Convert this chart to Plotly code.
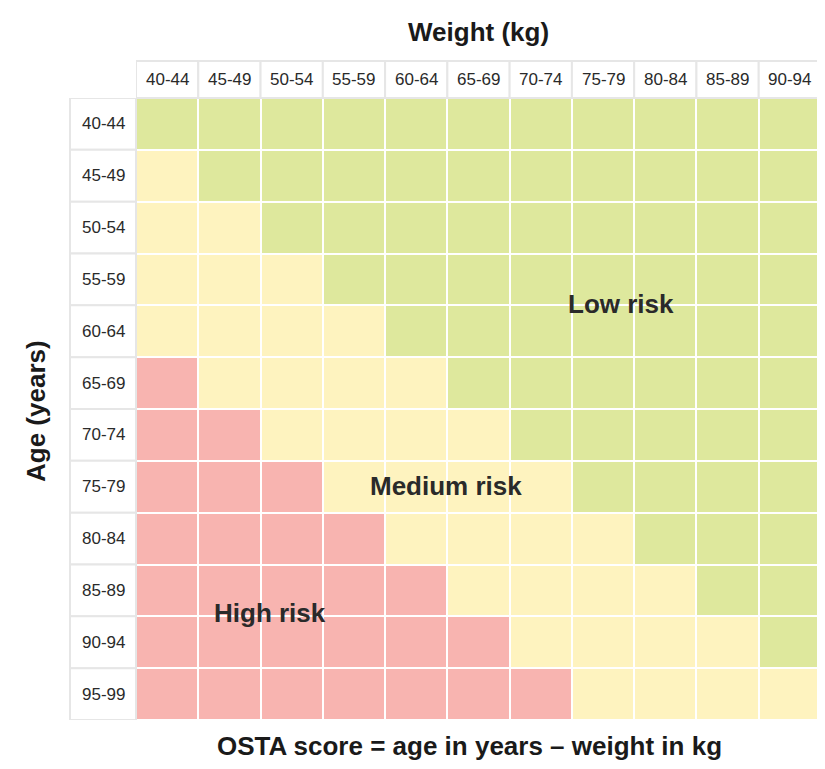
import plotly.graph_objects as go

weight_labels = ["40-44", "45-49", "50-54", "55-59", "60-64", "65-69",
                 "70-74", "75-79", "80-84", "85-89", "90-94"]
age_labels = ["40-44", "45-49", "50-54", "55-59", "60-64", "65-69",
              "70-74", "75-79", "80-84", "85-89", "90-94", "95-99"]

# Risk category per cell: 0 = low, 1 = medium, 2 = high (rows = age, cols = weight)
risk = [
    [0, 0, 0, 0, 0, 0, 0, 0, 0, 0, 0],
    [1, 0, 0, 0, 0, 0, 0, 0, 0, 0, 0],
    [1, 1, 0, 0, 0, 0, 0, 0, 0, 0, 0],
    [1, 1, 1, 0, 0, 0, 0, 0, 0, 0, 0],
    [1, 1, 1, 1, 0, 0, 0, 0, 0, 0, 0],
    [2, 1, 1, 1, 1, 0, 0, 0, 0, 0, 0],
    [2, 2, 1, 1, 1, 1, 0, 0, 0, 0, 0],
    [2, 2, 2, 1, 1, 1, 1, 0, 0, 0, 0],
    [2, 2, 2, 2, 1, 1, 1, 1, 0, 0, 0],
    [2, 2, 2, 2, 2, 1, 1, 1, 1, 0, 0],
    [2, 2, 2, 2, 2, 2, 1, 1, 1, 1, 0],
    [2, 2, 2, 2, 2, 2, 2, 1, 1, 1, 1],
]

region_labels = ["Low risk", "Medium risk", "High risk"]
region_pos_x = [7.29, 4.48, 1.65]
region_pos_y = [3.47, 6.99, 9.44]

GREEN = "#dee89d"
YELLOW = "#fef3bf"
PINK = "#f8b4b0"
BORDER = "#e6e6e6"
TEXT = "#2a2a2a"

OFF = 8  # page body margin
W, H = 825 - OFF, 769 - OFF
ML, MT = 136 - OFF, 98 - OFF
MR = W - (821 - OFF)
MB = H - (720 - OFF)
plot_w = W - ML - MR
plot_h = H - MT - MB


def px_x(px):
    return (px - OFF - ML) / plot_w


def px_y(py):
    return 1 - (py - OFF - MT) / plot_h


header_top = px_y(61)
rowhead_left = px_x(70)

fig = go.Figure()
fig.add_trace(go.Heatmap(
    z=risk,
    x=list(range(len(weight_labels))),
    y=list(range(len(age_labels))),
    zmin=0, zmax=2,
    colorscale=[[0, GREEN], [0.333, GREEN], [0.333, YELLOW], [0.666, YELLOW],
                [0.666, PINK], [1, PINK]],
    showscale=False,
    xgap=2, ygap=2,
    hoverinfo="skip",
))

shapes = []
annotations = []
for j, lab in enumerate(weight_labels):
    shapes.append(dict(type="rect", xref="x", yref="paper",
                       x0=j - 0.5, x1=j + 0.5, y0=1, y1=header_top,
                       line=dict(color=BORDER, width=2), fillcolor="white",
                       layer="below"))
    annotations.append(dict(text=lab, x=j, xref="x", y=(1 + header_top) / 2,
                            yref="paper", showarrow=False, xanchor="center",
                            yanchor="middle",
                            font=dict(size=17, color=TEXT, family="Arial")))
for i, lab in enumerate(age_labels):
    shapes.append(dict(type="rect", xref="paper", yref="y",
                       x0=rowhead_left, x1=0, y0=i - 0.5, y1=i + 0.5,
                       line=dict(color=BORDER, width=2), fillcolor="white",
                       layer="below"))
    annotations.append(dict(text=lab, x=rowhead_left / 2, xref="paper", y=i,
                            yref="y", showarrow=False, xanchor="center",
                            yanchor="middle",
                            font=dict(size=17, color=TEXT, family="Arial")))

for lab, px, py in zip(region_labels, region_pos_x, region_pos_y):
    annotations.append(dict(text="<b>%s</b>" % lab, x=px, y=py, xref="x", yref="y",
                            showarrow=False, xanchor="center", yanchor="middle",
                            font=dict(size=26, color=TEXT, family="Arial")))

annotations.append(dict(text="<b>Weight (kg)</b>", x=px_x(478), xref="paper",
                        y=px_y(32), yref="paper", showarrow=False,
                        xanchor="center", yanchor="middle",
                        font=dict(size=26, color="#1a1a1a", family="Arial")))
annotations.append(dict(text="<b>Age (years)</b>", x=px_x(36), xref="paper",
                        y=px_y(411), yref="paper", showarrow=False,
                        xanchor="center", yanchor="middle", textangle=-90,
                        font=dict(size=26, color="#1a1a1a", family="Arial")))
annotations.append(dict(text="<b>OSTA score = age in years – weight in kg</b>",
                        x=px_x(469), xref="paper",
                        y=px_y(746), yref="paper", showarrow=False,
                        xanchor="center", yanchor="middle",
                        font=dict(size=26, color="#1a1a1a", family="Arial")))

fig.update_layout(
    width=W, height=H,
    margin=dict(l=ML, r=MR, t=MT, b=MB),
    paper_bgcolor="white", plot_bgcolor="white",
    xaxis=dict(range=[-0.5, len(weight_labels) - 0.5], showticklabels=False,
               showgrid=False, zeroline=False, ticks="", fixedrange=True),
    yaxis=dict(range=[len(age_labels) - 0.5, -0.5], showticklabels=False,
               showgrid=False, zeroline=False, ticks="", fixedrange=True),
    shapes=shapes, annotations=annotations,
    showlegend=False,
)

fig.write_html("out.html", config={"displayModeBar": False})
